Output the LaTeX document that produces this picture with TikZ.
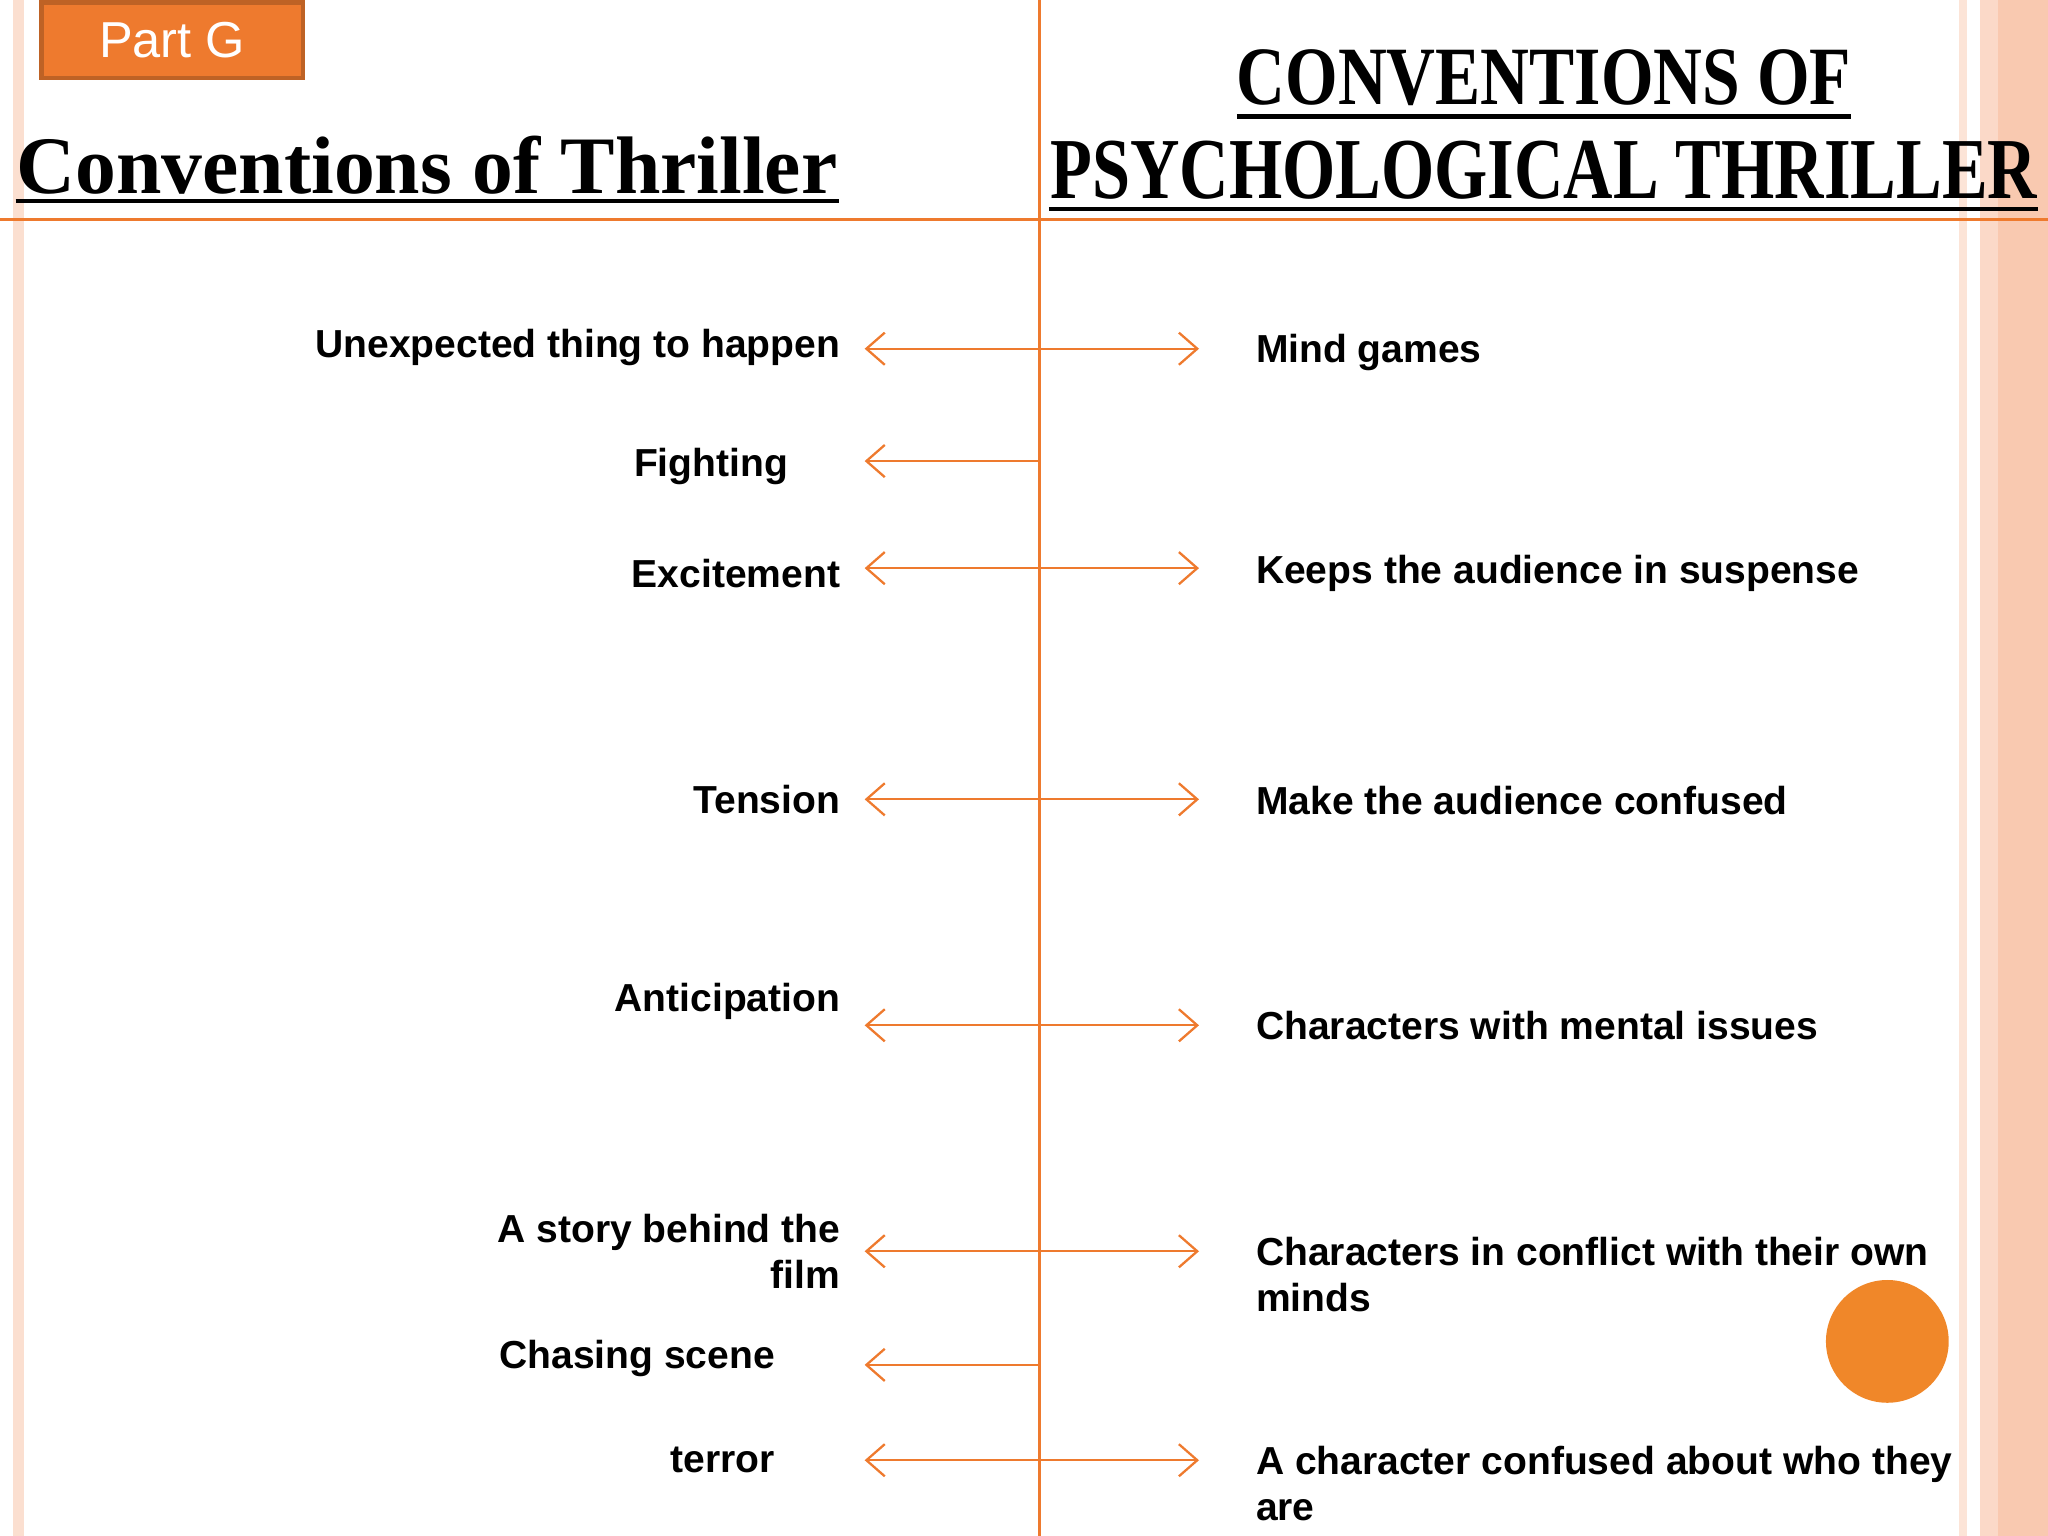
\documentclass[tikz,border=0pt]{standalone}
\usepackage{fontspec}
\setmainfont{Liberation Sans}
\newfontfamily\ttlfont{Liberation Serif}
\usetikzlibrary{arrows.meta}
\definecolor{org}{HTML}{EE7A2E}
\definecolor{pale}{HTML}{F9C9B0}
\begin{document}
\begin{tikzpicture}[x=0.01cm,y=-0.01cm,
  lab/.style={font=\bfseries\fontsize{8.5}{10}\selectfont,inner sep=0pt},
  ll/.style={lab,anchor=east,align=right},
  rl/.style={lab,anchor=west,align=left},
  conn/.style={org,line width=0.5pt,-{Straight Barb[length=4pt,width=7pt]}},
  ttl/.style={font=\ttlfont\bfseries\fontsize{17}{20}\selectfont,inner sep=0pt}]
\useasboundingbox (0,0) rectangle (1568,1176);
\fill[pale!60] (10,0) rectangle (18,1176);
\fill[pale!50] (1500,0) rectangle (1506,1176);
\fill[pale!70] (1516,0) rectangle (1530,1176);
\fill[pale] (1530,0) rectangle (1568,1176);
\draw[org,line width=0.6pt] (796,0) -- (796,1176);
\draw[org,line width=0.6pt] (0,168) -- (1568,168);
\node[draw=org!80!black,fill=org,line width=1pt,minimum width=2cm,minimum height=0.58cm,anchor=north west,text=white,font=\fontsize{11}{13}\selectfont] (part) at (30,0) {Part G};
\node[ttl,anchor=base west] (t1) at (12,148) {\resizebox{6.28cm}{!}{\textsc{Conventions of Thriller}}};
\draw[line width=1pt] (12,154) -- (642,154);
\node[ttl,anchor=base] (t2) at (1182,80) {\resizebox{4.7cm}{0.42cm}{CONVENTIONS OF}};
\draw[line width=1pt] (947,89) -- (1417,89);
\node[ttl,anchor=base] (t3) at (1182,152) {\resizebox{7.55cm}{0.44cm}{PSYCHOLOGICAL THRILLER}};
\draw[line width=1pt] (803,160) -- (1560,160);
% left labels
\node[ll] (l1) at (644,266) {Unexpected thing to happen};
\node[ll] (l2) at (604,357) {Fighting};
\node[ll] (l3) at (644,439) {Excitement};
\node[ll] (l4) at (644,612) {Tension};
\node[ll] (l5) at (644,767) {Anticipation};
\node[ll] (l6) at (644,958) {A story behind the\\film};
\node[ll] (l7) at (594,1040) {Chasing scene};
\node[ll] (l8) at (594,1118) {terror};
% right labels
\node[rl] (r1) at (961,270) {Mind games};
\node[rl] (r3) at (961,439) {Keeps the audience in suspense};
\node[rl] (r4) at (961,613) {Make the audience confused};
\node[rl] (r5) at (961,785) {Characters with mental issues};
\node[rl] (r6) at (961,976) {Characters in conflict with their own\\minds};
\node[rl] (r8) at (961,1136) {A character confused about who they\\are};
% connectors
\foreach \i/\y/\r in {1/267/1,2/353/0,3/435/1,4/612/1,5/785/1,6/958/1,7/1045/0,8/1118/1}{
  \coordinate (s\i) at (796,\y);
  \coordinate (a\i) at (662,\y);
  \coordinate (b\i) at (918,\y);
  \draw[conn] (s\i) -- (a\i);
  \ifnum\r=1 \draw[conn] (s\i) -- (b\i); \fi
}
\fill[org!90!yellow] (1445,1027) circle (47);
\end{tikzpicture}
\end{document}
